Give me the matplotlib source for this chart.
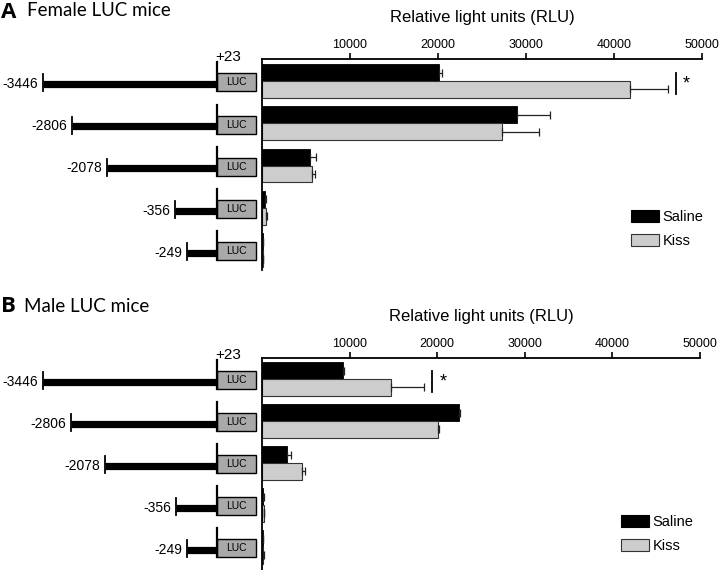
import matplotlib
matplotlib.use("Agg")
import matplotlib.pyplot as plt
import matplotlib.transforms as mtrans
from matplotlib.patches import Rectangle, Patch
import numpy as np

plt.rcParams['font.family'] = ['Liberation Sans', 'DejaVu Sans']

# ---------------- data ----------------
constructs = ["-3446", "-2806", "-2078", "-356", "-249"]
series = ["Saline", "Kiss"]

female_saline = [20100, 29000, 5450, 380, 100]
female_saline_err = [400, 3700, 700, 100, 50]
female_kiss = [41850, 27300, 5650, 420, 120]
female_kiss_err = [4300, 4200, 400, 120, 50]

male_saline = [9300, 22500, 2800, 150, 100]
male_saline_err = [100, 150, 500, 50, 50]
male_kiss = [14750, 20100, 4550, 200, 150]
male_kiss_err = [3800, 150, 400, 50, 50]

significant_row = [0, 0]  # row with '*' in panel A and B
x_ticks = [10000, 20000, 30000, 40000, 50000]

# schematic layout (pixel x of promoter left ends, per panel)
start_px_A = [43, 72, 107, 175, 187]
start_px_B = [43, 71, 105, 176, 187]

W, H = 720, 570
fig = plt.figure(figsize=(W / 100, H / 100), dpi=100)
over = fig.add_axes([0, 0, 1, 1])
over.set_xlim(0, W)
over.set_ylim(H, 0)
over.axis('off')


def ax_rect(left, top, right, bottom):
    return [left / W, 1 - bottom / H, (right - left) / W, (bottom - top) / H]


SALINE_C = "#000000"
KISS_C = "#cdcdcd"
LUC_C = "#a9a9a9"


def panel(rect, ylim, sal, sal_err, kis, kis_err, starts, sig_row, legend_xy):
    ax = fig.add_axes(rect)
    ax.set_xlim(0, 50000)
    ax.set_ylim(*ylim)
    n = len(constructs)
    y = np.arange(n)
    h = 0.4
    ax.barh(y - h / 2, sal, height=h, color=SALINE_C, edgecolor="#000000", lw=0.6)
    ax.barh(y + h / 2, kis, height=h, color=KISS_C, edgecolor="#333333", lw=0.8)
    ax.errorbar(sal, y - h / 2, xerr=[np.zeros(n), sal_err], fmt='none',
                ecolor='#222222', elinewidth=0.9, capsize=3, capthick=0.9)
    ax.errorbar(kis, y + h / 2, xerr=[np.zeros(n), kis_err], fmt='none',
                ecolor='#222222', elinewidth=0.9, capsize=3, capthick=0.9)
    for s in ['right', 'bottom']:
        ax.spines[s].set_visible(False)
    ax.spines['top'].set_linewidth(1.3)
    ax.spines['left'].set_linewidth(1.3)
    ax.xaxis.tick_top()
    ax.xaxis.set_label_position('top')
    ax.set_xticks(x_ticks)
    ax.set_xticklabels([str(t) for t in x_ticks])
    ax.tick_params(axis='x', direction='out', length=4, width=1.2, labelsize=9, pad=2)
    ax.set_yticks([])
    ax.set_xlabel("Relative light units (RLU)", fontsize=12, labelpad=12)

    # significance marker
    i = sig_row
    top = max(sal[i] + sal_err[i], kis[i] + kis_err[i])
    xs = top + 900
    ax.plot([xs, xs], [i - 0.19, i + 0.31], color='black', lw=1.3, clip_on=False)
    ax.annotate("*", (xs, i + 0.06), xytext=(5, 0), textcoords='offset points',
                fontsize=13, va='center', ha='left')

    # legend
    handles = [Patch(facecolor=SALINE_C, edgecolor='black', lw=0.8),
               Patch(facecolor=KISS_C, edgecolor='#333333', lw=0.8)]
    ax.legend(handles, series, loc='upper left', bbox_to_anchor=legend_xy,
              bbox_transform=over.transData, frameon=False, fontsize=10.5,
              handlelength=1.9, handleheight=0.85, labelspacing=0.7,
              handletextpad=0.25, borderpad=0, borderaxespad=0)

    # schematic
    tr = mtrans.blended_transform_factory(over.transData, ax.transData)
    upp = (ylim[0] - ylim[1]) / (rect[3] * H)  # units per pixel
    for k in range(n):
        yc = k + 0.03
        x0 = starts[k]
        box_h = 18 * upp
        over.add_patch(Rectangle((217, yc - box_h / 2), 39, box_h, transform=tr,
                                 facecolor=LUC_C, edgecolor='black', lw=1.0,
                                 clip_on=False, zorder=3))
        over.text(236.5, yc, "LUC", transform=tr, fontsize=7.5, ha='center',
                  va='center', zorder=4)
        over.plot([x0, 217], [yc + 1.5 * upp, yc + 1.5 * upp], transform=tr,
                  color='black', lw=5.2, solid_capstyle='butt', clip_on=False)
        over.plot([x0, x0], [yc - 8 * upp, yc + 9 * upp], transform=tr,
                  color='black', lw=1.3, clip_on=False)
        over.plot([217, 217], [yc - box_h / 2 - 11 * upp, yc + box_h / 2], transform=tr,
                  color='black', lw=1.6, clip_on=False, zorder=4)
        over.text(x0 - 5, yc + 1.5 * upp, constructs[k], transform=tr, fontsize=10,
                  ha='right', va='center')
        if k == 0:
            over.text(215, yc - box_h / 2 - 9 * upp, "+23", transform=tr,
                      fontsize=11, ha='left', va='bottom')
    return ax


axA = panel(ax_rect(262, 59, 702, 270), (4.47, -0.52),
            female_saline, female_saline_err, female_kiss, female_kiss_err,
            start_px_A, significant_row[0], (631, 210))
axB = panel(ax_rect(262, 358, 700, 570), (4.55, -0.5),
            male_saline, male_saline_err, male_kiss, male_kiss_err,
            start_px_B, significant_row[1], (621, 515))

over.text(1, 12, "A", fontsize=16, fontweight='bold', ha='left', va='center',
          family=['Open Sans', 'DejaVu Sans'])
over.text(27, 11, "Female LUC mice", fontsize=13.5, ha='left', va='center',
          family=['Lato', 'DejaVu Sans'])
over.text(1, 307, "B", fontsize=16, fontweight='bold', ha='left', va='center',
          family=['Open Sans', 'DejaVu Sans'])
over.text(24, 307, "Male LUC mice", fontsize=13.5, ha='left', va='center',
          family=['Lato', 'DejaVu Sans'])

fig.savefig("out.png", dpi=100)
